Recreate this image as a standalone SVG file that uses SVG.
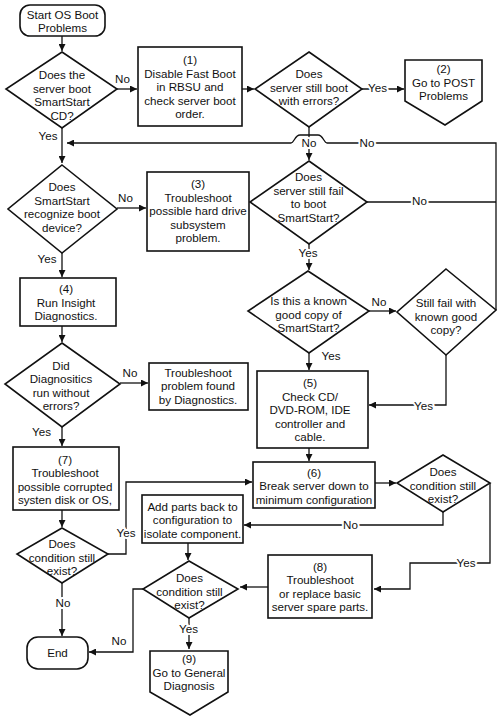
<svg xmlns="http://www.w3.org/2000/svg" width="500" height="719" viewBox="0 0 500 719">
<style>
  .shape { fill: #fff; stroke: #111; stroke-width: 1.6; }
  .conn { fill: none; stroke: #111; stroke-width: 1.3; }
  text { font-family: "Liberation Sans", Arial, sans-serif; font-size: 11.6px; fill: #111; text-anchor: middle; }
  .lbl { stroke: #fff; stroke-width: 4; paint-order: stroke; stroke-linejoin: round; }
</style>
<defs>
  <marker id="arr" viewBox="0 0 10 10" refX="10" refY="5" markerWidth="7" markerHeight="7" markerUnits="userSpaceOnUse" orient="auto">
    <path d="M0,0 L10,5 L0,10 z" fill="#111"/>
  </marker>
</defs>
<rect width="500" height="719" fill="#fff"/>

<g id="connectors">
  <path class="conn" d="M62 36 V51" marker-end="url(#arr)"/>
  <path class="conn" d="M117 89 H137" marker-end="url(#arr)"/>
  <path class="conn" d="M242 89 H254" marker-end="url(#arr)"/>
  <path class="conn" d="M362 89 H404" marker-end="url(#arr)"/>
  <path class="conn" d="M309 127 V160" marker-end="url(#arr)"/>
  <path class="conn" d="M496 310 V143 H327 C324 143 323 135 318 135 H300 C295 135 294 143 291 143 H67" marker-end="url(#arr)"/>
  <path class="conn" d="M367 202 H496"/>
  <path class="conn" d="M62 128 V163" marker-end="url(#arr)"/>
  <path class="conn" d="M117 208 H146" marker-end="url(#arr)"/>
  <path class="conn" d="M62 253 V277" marker-end="url(#arr)"/>
  <path class="conn" d="M62 326 V342" marker-end="url(#arr)"/>
  <path class="conn" d="M120 383 H148" marker-end="url(#arr)"/>
  <path class="conn" d="M62 427 V446" marker-end="url(#arr)"/>
  <path class="conn" d="M62 510 V527" marker-end="url(#arr)"/>
  <path class="conn" d="M62 583 V636" marker-end="url(#arr)"/>
  <path class="conn" d="M108 554 H126 V482 H252" marker-end="url(#arr)"/>
  <path class="conn" d="M309 244 V270" marker-end="url(#arr)"/>
  <path class="conn" d="M369 311 H396" marker-end="url(#arr)"/>
  <path class="conn" d="M309 353 V370" marker-end="url(#arr)"/>
  <path class="conn" d="M446 355 V405 H369" marker-end="url(#arr)"/>
  <path class="conn" d="M309 448 V461" marker-end="url(#arr)"/>
  <path class="conn" d="M375 483 H396" marker-end="url(#arr)"/>
  <path class="conn" d="M443 512 V525 H244" marker-end="url(#arr)"/>
  <path class="conn" d="M490 483 V563 H410 V589 H374" marker-end="url(#arr)"/>
  <path class="conn" d="M268 587 H240" marker-end="url(#arr)"/>
  <path class="conn" d="M188 543 V560" marker-end="url(#arr)"/>
  <path class="conn" d="M143 589 H133 V652 H89" marker-end="url(#arr)"/>
  <path class="conn" d="M189 618 V649" marker-end="url(#arr)"/>

  <text class="lbl" x="309" y="147">No</text>
  <text class="lbl" x="367" y="147">No</text>
  <text class="lbl" x="419.5" y="205">No</text>
  <text class="lbl" x="308" y="257">Yes</text>
  <text class="lbl" x="126" y="537">Yes</text>
  <text class="lbl" x="63" y="607">No</text>
  <text class="lbl" x="188.5" y="633">Yes</text>
  <text class="lbl" x="350.5" y="529">No</text>
  <text class="lbl" x="466" y="567">Yes</text>
  <text class="lbl" x="423.5" y="410">Yes</text>
  <text class="lbl" x="377.5" y="92">Yes</text>
  <text x="122.5" y="83">No</text>
  <text x="48" y="140">Yes</text>
  <text x="125.5" y="202">No</text>
  <text x="47" y="263">Yes</text>
  <text x="130" y="377">No</text>
  <text x="41.5" y="436">Yes</text>
  <text x="379" y="306">No</text>
  <text x="331" y="360">Yes</text>
  <text x="119" y="645">No</text>
</g>

<g id="start">
  <rect class="shape" x="20" y="5" width="85" height="31" rx="10"/>
  <text x="62.5"><tspan x="62.5" y="18.5">Start OS Boot</tspan><tspan x="62.5" y="31.5">Problems</tspan></text>
</g>
<g id="d1">
  <polygon class="shape" points="62,52 117,89 62,128 6,89"/>
  <text><tspan x="62" y="79">Does the</tspan><tspan x="62" y="92.5">server boot</tspan><tspan x="62" y="106">SmartStart</tspan><tspan x="62" y="119.5">CD?</tspan></text>
</g>
<g id="box1">
  <rect class="shape" x="138" y="47" width="104" height="79"/>
  <text><tspan x="190" y="64">(1)</tspan><tspan x="190" y="77.5">Disable Fast Boot</tspan><tspan x="190" y="91">in RBSU and</tspan><tspan x="190" y="104.5">check server boot</tspan><tspan x="190" y="118">order.</tspan></text>
</g>
<g id="d2">
  <polygon class="shape" points="309,52 362,89 309,127 255,89"/>
  <text><tspan x="309" y="78">Does</tspan><tspan x="309" y="91.5">server still boot</tspan><tspan x="309" y="105">with errors?</tspan></text>
</g>
<g id="box2">
  <polygon class="shape" points="405,60 482,60 482,101 445,125 405,101"/>
  <text><tspan x="443.5" y="73">(2)</tspan><tspan x="443.5" y="86.5">Go to POST</tspan><tspan x="443.5" y="100">Problems</tspan></text>
</g>
<g id="d3">
  <polygon class="shape" points="309,161 367,202 309,244 250,202"/>
  <text><tspan x="308.5" y="181">Does</tspan><tspan x="308.5" y="194.5">server still fail</tspan><tspan x="308.5" y="208">to boot</tspan><tspan x="308.5" y="221.5">SmartStart?</tspan></text>
</g>
<g id="d4">
  <polygon class="shape" points="62,165 117,209 62,253 8,209"/>
  <text><tspan x="62" y="191">Does</tspan><tspan x="62" y="204.5">SmartStart</tspan><tspan x="62" y="218">recognize boot</tspan><tspan x="62" y="231.5">device?</tspan></text>
</g>
<g id="box3">
  <rect class="shape" x="147" y="172" width="102" height="79"/>
  <text><tspan x="198" y="188">(3)</tspan><tspan x="198" y="201.5">Troubleshoot</tspan><tspan x="198" y="215">possible hard drive</tspan><tspan x="198" y="228.5">subsystem</tspan><tspan x="198" y="242">problem.</tspan></text>
</g>
<g id="box4">
  <rect class="shape" x="20" y="278" width="96" height="48"/>
  <text><tspan x="66" y="293">(4)</tspan><tspan x="66" y="306.5">Run Insight</tspan><tspan x="66" y="320">Diagnostics.</tspan></text>
</g>
<g id="d-known">
  <polygon class="shape" points="308,271 369,311 309,353 248,311"/>
  <text><tspan x="308.5" y="305">Is this a known</tspan><tspan x="308.5" y="318.5">good copy of</tspan><tspan x="308.5" y="332">SmartStart?</tspan></text>
</g>
<g id="d-still">
  <polygon class="shape" points="446,269 496,310 446,355 397,312"/>
  <text><tspan x="446" y="307">Still fail with</tspan><tspan x="446" y="320.5">known good</tspan><tspan x="446" y="334">copy?</tspan></text>
</g>
<g id="d5">
  <polygon class="shape" points="62,343 120,384 62,427 5,384"/>
  <text><tspan x="61" y="369.5">Did</tspan><tspan x="61" y="383">Diagnositics</tspan><tspan x="61" y="396.5">run without</tspan><tspan x="61" y="410">errors?</tspan></text>
</g>
<g id="box-diag">
  <rect class="shape" x="149" y="363" width="99" height="47"/>
  <text><tspan x="198" y="376.5">Troubleshoot</tspan><tspan x="198" y="390">problem found</tspan><tspan x="198" y="403.5">by Diagnostics.</tspan></text>
</g>
<g id="box5">
  <rect class="shape" x="257" y="371" width="111" height="77"/>
  <text><tspan x="310" y="387">(5)</tspan><tspan x="310" y="400.5">Check CD/</tspan><tspan x="310" y="414">DVD-ROM, IDE</tspan><tspan x="310" y="427.5">controller and</tspan><tspan x="310" y="441">cable.</tspan></text>
</g>
<g id="box7">
  <rect class="shape" x="13" y="447" width="106" height="63"/>
  <text><tspan x="65" y="463.5">(7)</tspan><tspan x="65" y="477">Troubleshoot</tspan><tspan x="65" y="490.5">possible corrupted</tspan><tspan x="65" y="504">systen disk or OS,</tspan></text>
</g>
<g id="box6">
  <rect class="shape" x="253" y="462" width="122" height="46"/>
  <text><tspan x="314" y="476.5">(6)</tspan><tspan x="314" y="490">Break server down to</tspan><tspan x="314" y="503.5">minimum configuration</tspan></text>
</g>
<g id="d-right">
  <polygon class="shape" points="443,455 490,483 443,512 397,483"/>
  <text><tspan x="443" y="476">Does</tspan><tspan x="443" y="489.5">condition still</tspan><tspan x="443" y="503">exist?</tspan></text>
</g>
<g id="box-add">
  <rect class="shape" x="142" y="495" width="101" height="48"/>
  <text><tspan x="192.5" y="510.5">Add parts back to</tspan><tspan x="192.5" y="524">configuration to</tspan><tspan x="192.5" y="537.5">isolate component.</tspan></text>
</g>
<g id="d-left">
  <polygon class="shape" points="62,528 108,554 62,583 17,554"/>
  <text><tspan x="62" y="548">Does</tspan><tspan x="62" y="561.5">condition still</tspan><tspan x="62" y="575">exist?</tspan></text>
</g>
<g id="box8">
  <rect class="shape" x="268" y="555" width="104" height="63"/>
  <text><tspan x="320" y="570.5">(8)</tspan><tspan x="320" y="584">Troubleshoot</tspan><tspan x="320" y="597.5">or replace basic</tspan><tspan x="320" y="611">server spare parts.</tspan></text>
</g>
<g id="d-mid">
  <polygon class="shape" points="189,561 238,589 189,618 143,589"/>
  <text><tspan x="189.5" y="582">Does</tspan><tspan x="189.5" y="595.5">condition still</tspan><tspan x="189.5" y="609">exist?</tspan></text>
</g>
<g id="end">
  <rect class="shape" x="27" y="637" width="61" height="32" rx="11"/>
  <text x="57.5" y="657">End</text>
</g>
<g id="box9">
  <polygon class="shape" points="150,651 228,651 228,692 190,715 150,692"/>
  <text><tspan x="189" y="663">(9)</tspan><tspan x="189" y="676.5">Go to General</tspan><tspan x="189" y="690">Diagnosis</tspan></text>
</g>
</svg>
